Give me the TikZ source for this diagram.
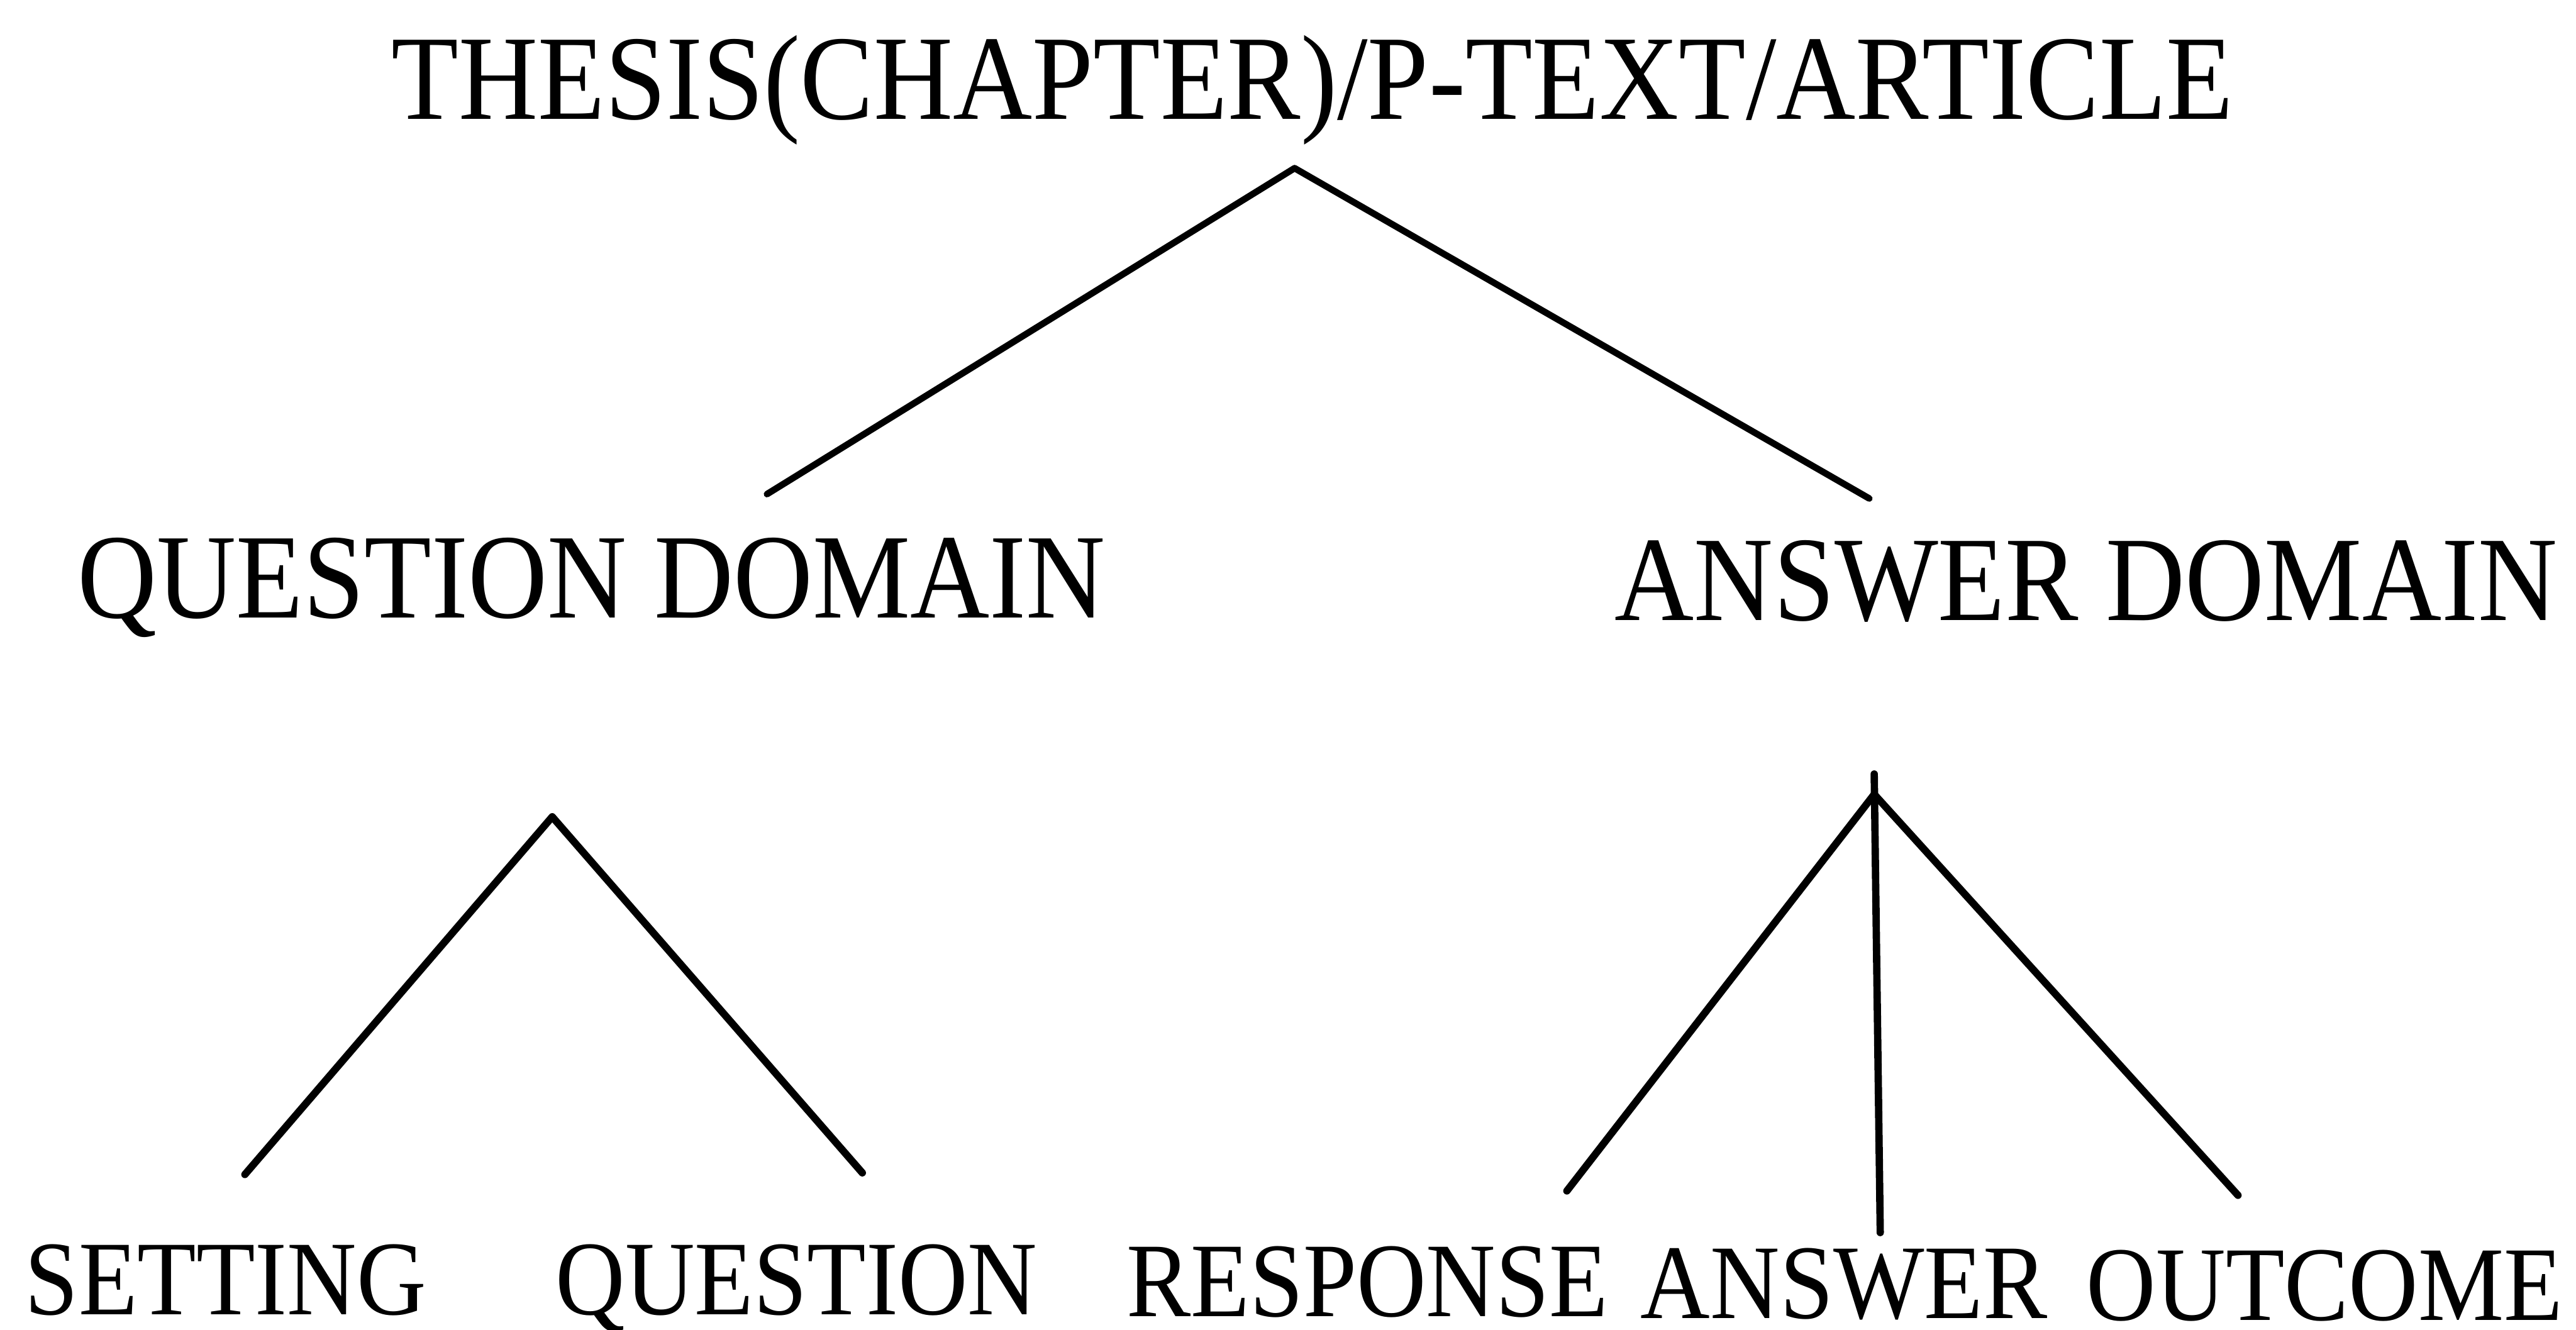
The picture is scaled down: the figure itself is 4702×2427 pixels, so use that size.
\documentclass[tikz,border=0pt]{standalone}
\usepackage{fontspec}
\setmainfont{Liberation Serif}
\begin{document}
\begin{tikzpicture}[x=0.01cm,y=-0.01cm,
  big/.style={inner sep=0pt,anchor=base,font=\fontsize{57}{60}\selectfont},
  small/.style={inner sep=0pt,anchor=base,font=\fontsize{50}{52}\selectfont},
  branch/.style={line width=3.4pt,line cap=round,line join=round},
  twig/.style={line width=3.8pt,line cap=round,line join=round}]
\useasboundingbox (0,0) rectangle (4702,2427);

% labels
\node[big] (root) at (2396,217) {\scalebox{1}[1.1]{THESIS(CHAPTER)/P-TEXT/ARTICLE}};
\node[big] (qd) at (1080,1128) {\scalebox{1}[1.1]{QUESTION DOMAIN}};
\node[big] (ad) at (3808,1133) {\scalebox{1}[1.1]{ANSWER DOMAIN}};
\node[small] (set) at (412,2400) {\scalebox{1}[1.1]{SETTING}};
\node[small] (que) at (1454,2400) {\scalebox{1}[1.1]{QUESTION}};
\node[small] (res) at (2496,2403) {\scalebox{1}[1.1]{RESPONSE}};
\node[small] (ans) at (3366,2407) {\scalebox{1}[1.1]{ANSWER}};
\node[small,anchor=base west] (out) at (3808,2410) {\scalebox{1}[1.1]{OUTCOME}};

% branch points
\coordinate (rtop) at (2363,307);
\coordinate (qdend) at (1400,902);
\coordinate (adend) at (3412,910);
\coordinate (qtop) at (1008,1491);
\coordinate (setend) at (447,2144);
\coordinate (queend) at (1574,2141);
\coordinate (atop) at (3421,1450);
\coordinate (avtop) at (3421,1413);
\coordinate (resend) at (2860,2174);
\coordinate (ansend) at (3432,2250);
\coordinate (outend) at (4085,2182);

% top level
\draw[branch] (qdend) -- (rtop) -- (adend);
% question domain
\draw[twig] (setend) -- (qtop) -- (queend);
% answer domain
\draw[twig] (resend) -- (atop) -- (outend);
\draw[twig] (avtop) -- (ansend);
\end{tikzpicture}
\end{document}
